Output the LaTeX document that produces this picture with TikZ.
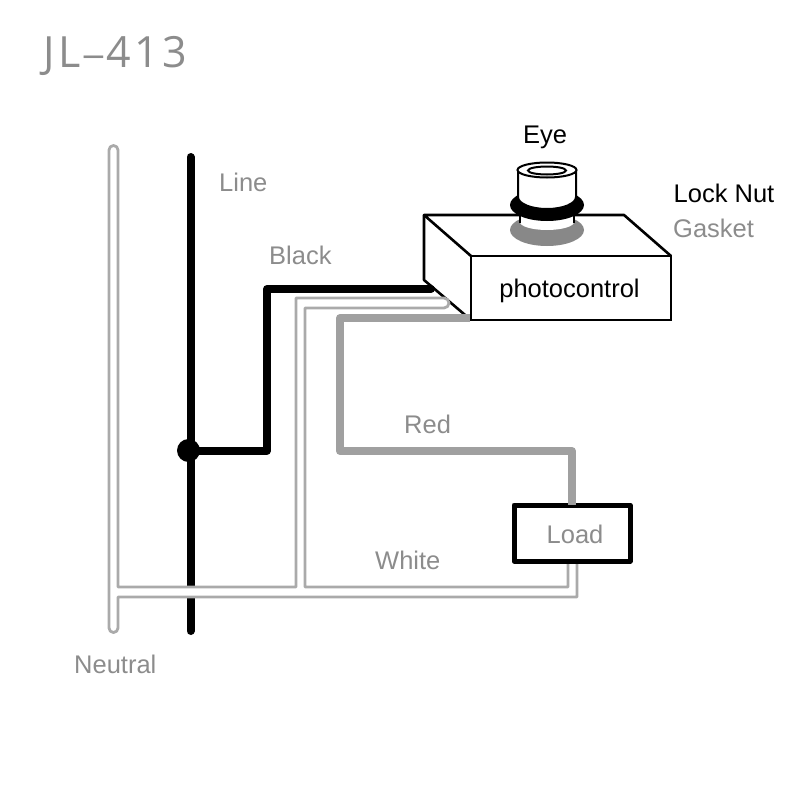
\documentclass[tikz,border=0pt]{standalone}
\usepackage{xcolor}
\usepackage{fontspec}
\setmainfont{Liberation Sans}
\newfontfamily\titlefont[LetterSpace=8]{Open Sans}
\definecolor{wiregray}{RGB}{160,160,160}
\definecolor{neutralgray}{RGB}{170,170,170}
\definecolor{gasketgray}{RGB}{136,136,136}
\definecolor{labelgray}{RGB}{140,140,140}
\tikzset{
  graylabel/.style={text=labelgray,inner sep=0pt,font=\fontsize{25.5}{28}\selectfont},
  blacklabel/.style={text=black,inner sep=0pt,font=\fontsize{25.5}{28}\selectfont},
  linewire/.style={line width=8pt,black,line cap=round,line join=round},
  redwire/.style={line width=8pt,wiregray,line join=round},
  neutralwire/.style={line width=2.8pt,neutralgray,fill=white,line join=round},
  outline/.style={line width=2.6pt,black,line join=round}
}
\begin{document}
\begin{tikzpicture}[x=1pt,y=-1pt]
\useasboundingbox (0,0) rectangle (800,800);

% Title
\node[text=labelgray,inner sep=0pt,font=\titlefont\fontsize{43}{46}\selectfont,anchor=west] (title) at (43,56) {JL\raisebox{1pt}{\scalebox{1.9}[0.8]{-}}413};

% Line wire
\coordinate (linetop) at (190.5,157);
\coordinate (linebottom) at (190.5,631);
\coordinate (junction) at (188.5,450.5);
\draw[linewire] (linetop) -- (linebottom);
\fill[black] (junction) circle (11.5pt);

% Photocontrol box
\coordinate (backleft) at (424,215);
\coordinate (backright) at (624,215);
\coordinate (frontleft) at (471,256);
\coordinate (frontright) at (671,256);
\coordinate (bottomleft) at (424,280);
\node[draw,line width=2.6pt,minimum width=200pt,minimum height=64pt,inner sep=0pt,outer sep=0pt,anchor=north west] (photocontrol) at (frontleft) {};
\node[blacklabel] (photolabel) at (569.5,291) {photocontrol};
\draw[outline] (frontleft) -- (backleft) -- (backright) -- (frontright);
\draw[outline] (backleft) -- (bottomleft) -- (photocontrol.south west);

% Wires to the box
\coordinate (blackend) at (431,289);
\coordinate (redend) at (470,318);
\draw[linewire] (junction) -- (267,450.5) -- (267,289) -- (blackend);

% Neutral wire
\draw[neutralwire] (109,150) arc[start angle=180,end angle=0,radius=4.5pt] -- (118,587) -- (296,587) -- (296,298)
  -- (444,298) arc[start angle=90,end angle=-90,radius=5pt] -- (305,308) -- (305,587) -- (568,587) -- (568,555)
  -- (577,555) -- (577,597) -- (118,597) -- (118,628) arc[start angle=0,end angle=-180,radius=4.5pt] -- cycle;

% Load
\node[draw,fill=white,line width=5pt,minimum width=116pt,minimum height=56pt,inner sep=0pt,outer sep=0pt,line join=round] (load) at (572,533) {};
\node[graylabel] (loadlabel) at (575,534) {Load};
\draw[redwire] (redend) -- (340,318) -- (340,451) -- (572,451) -- (load.north);

% Eye
\fill[gasketgray] (547,230) ellipse [x radius=37pt,y radius=16pt];
\fill[white] (520,215) -- (520,222) arc[start angle=180,end angle=360,x radius=27pt,y radius=8pt] -- (574,215) -- cycle;
\draw[line width=1.6pt] (520,215) -- (520,223) (574,215) -- (574,223);
\fill[black] (547,205) ellipse [x radius=37pt,y radius=16pt];
\draw[line width=2pt,fill=white] (518,170) -- (518,197) arc[start angle=180,end angle=360,x radius=29pt,y radius=12pt] -- (576,170);
\draw[line width=2pt,fill=white] (547,170) ellipse [x radius=29.5pt,y radius=7.5pt];
\draw[line width=2pt] (547,170.5) ellipse [x radius=19pt,y radius=4pt];

% Labels
\node[blacklabel] (eye) at (545,137) {Eye};
\node[blacklabel,anchor=west] (locknut) at (673.5,193) {Lock Nut};
\node[graylabel,anchor=west] (gasket) at (673,228) {Gasket};
\node[graylabel,anchor=west] (linelabel) at (219,182) {Line};
\node[graylabel,anchor=west] (blacklabel) at (269,255) {Black};
\node[graylabel,anchor=west] (redlabel) at (404,424) {Red};
\node[graylabel,anchor=west] (whitelabel) at (375,560) {White};
\node[graylabel,anchor=west] (neutrallabel) at (74,664) {Neutral};
\end{tikzpicture}
\end{document}
